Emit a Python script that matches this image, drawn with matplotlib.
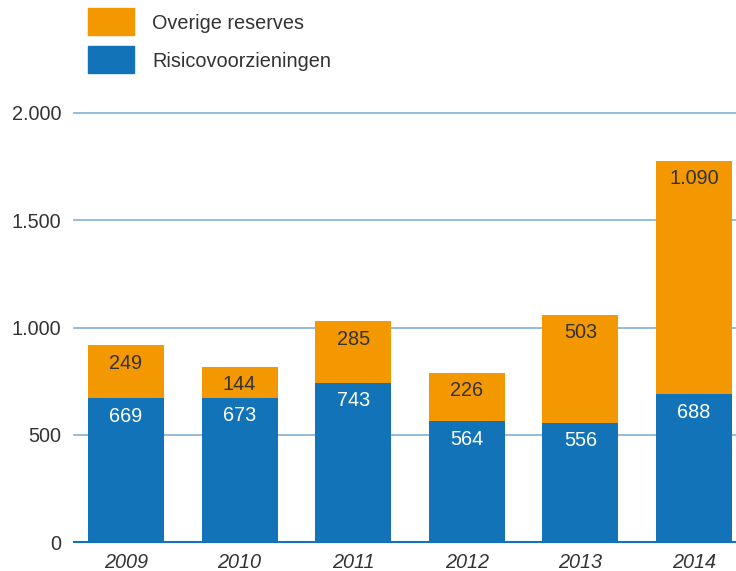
import numpy as np
import matplotlib.pyplot as plt
from matplotlib.patches import Rectangle

jaren = ['2009', '2010', '2011', '2012', '2013', '2014']
risico = [669, 673, 743, 564, 556, 688]
overig = [249, 144, 285, 226, 503, 1090]
reeks_namen = ['Overige reserves', 'Risicovoorzieningen']

blauw = '#1273b8'
oranje = '#f39800'
tekst = '#333333'
fs = 14.3

plt.rcParams['font.family'] = ['Liberation Sans', 'DejaVu Sans']

def fmt(v):
    return f'{v:,}'.replace(',', '.')

fig = plt.figure(figsize=(7.36, 5.71), dpi=100)
ax = fig.add_axes([74/736, 1-542/571, 1-74/736, (542-113)/571])

x = np.arange(len(jaren))
b1 = ax.bar(x, risico, width=0.67, color=blauw, zorder=3)
b2 = ax.bar(x, overig, width=0.67, bottom=risico, color=oranje, zorder=3)

for i in range(len(jaren)):
    ax.annotate(fmt(risico[i]), (x[i], risico[i]), xytext=(0, -13), textcoords='offset points',
                ha='center', va='center', color='white', fontsize=fs, zorder=4)
    ax.annotate(fmt(overig[i]), (x[i], risico[i]+overig[i]), xytext=(0, -13), textcoords='offset points',
                ha='center', va='center', color=tekst, fontsize=fs, zorder=4)

ax.set_xlim(-0.458, 5.37)
ax.set_ylim(0, 2000)
ax.set_yticks([0, 500, 1000, 1500, 2000])
ax.set_yticklabels([fmt(v) for v in [0, 500, 1000, 1500, 2000]])
ax.set_xticks(x)
ax.set_xticklabels(jaren, style='italic')
ax.tick_params(length=0, labelsize=fs, labelcolor=tekst)
ax.tick_params(axis='y', pad=9)
ax.tick_params(axis='x', pad=8)
for s in ax.spines.values():
    s.set_visible(False)
for g in [500, 1000, 1500, 2000]:
    ax.axhline(g, color='#7fb0d8', lw=1.2, zorder=1, clip_on=False)
ax.axhline(0, color=blauw, lw=1.5, zorder=4, clip_on=False)

# legenda
for naam, kleur, y in [(reeks_namen[0], oranje, 8), (reeks_namen[1], blauw, 46)]:
    fig.add_artist(Rectangle((88/736, 1-(y+27)/571), 46/736, 27/571,
                             transform=fig.transFigure, color=kleur))
    fig.text(152/736, 1-(y+15.5)/571, naam, va='center', ha='left', fontsize=fs, color=tekst)

fig.savefig('out.png', dpi=100)
